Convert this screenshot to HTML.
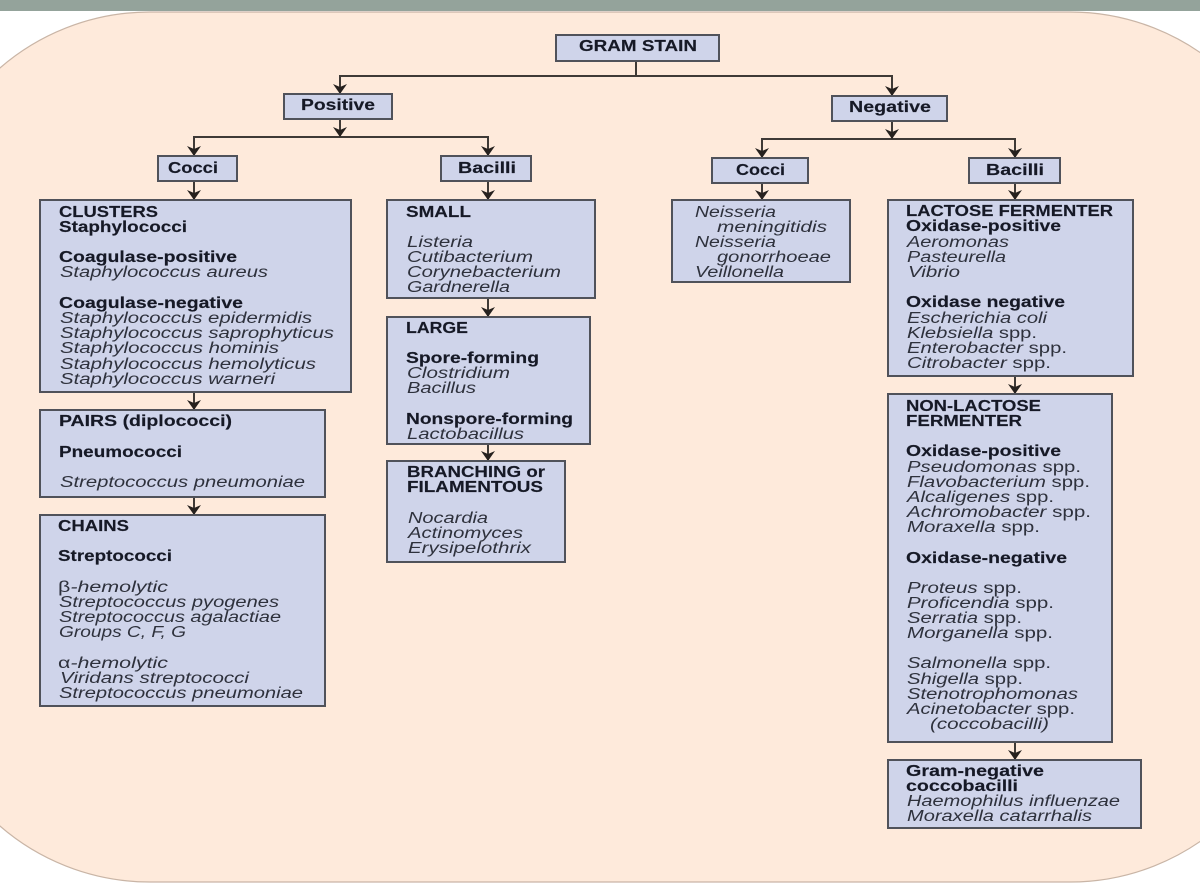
<!DOCTYPE html>
<html>
<head>
<meta charset="utf-8">
<style>
html,body{margin:0;padding:0;background:#fff;width:1200px;height:886px;overflow:hidden}
svg{display:block;filter:blur(.35px)}
text{font-family:"Liberation Sans",sans-serif;font-size:15.5px}
.b{font-weight:bold;fill:#161926;stroke:#161926;stroke-width:.15}
.i{font-style:italic;fill:#2e313c}
.n{font-style:normal}
.box{fill:#cfd4ea;stroke:#50525a;stroke-width:2}
.l{stroke:#3f3a36;stroke-width:2;fill:none}
.a{fill:#26211e}
</style>
</head>
<body>
<svg width="1200" height="886" viewBox="0 0 1200 886" xmlns="http://www.w3.org/2000/svg">
<rect x="0" y="0" width="1200" height="886" fill="#fff"/>
<rect x="-79" y="12" width="1378" height="870" rx="229" ry="229" fill="#feeadb" stroke="#c9b5a6" stroke-width="1.2"/>
<rect x="0" y="0" width="1200" height="11" fill="#94a39b"/>

<!-- connectors -->
<path class="l" d="M636 61V76M340 94V76H892V96M340 119V137M194 156V137H488V156M892 121V139M762 158V139H1015V158M194 181V200M488 181V200M762 183V200M1015 183V200M194 392V410M194 497V515M488 298V317M488 444V461M1015 376V394M1015 742V760"/>
<g class="a">
<polygon points="340,94 333,84 340,87 347,84"/>
<polygon points="892,96 885,86 892,89 899,86"/>
<polygon points="340,137 333,127 340,130 347,127"/>
<polygon points="194,156 187,146 194,149 201,146"/>
<polygon points="488,156 481,146 488,149 495,146"/>
<polygon points="892,139 885,129 892,132 899,129"/>
<polygon points="762,158 755,148 762,151 769,148"/>
<polygon points="1015,158 1008,148 1015,151 1022,148"/>
<polygon points="194,200 187,190 194,193 201,190"/>
<polygon points="488,200 481,190 488,193 495,190"/>
<polygon points="762,200 755,190 762,193 769,190"/>
<polygon points="1015,200 1008,190 1015,193 1022,190"/>
<polygon points="194,410 187,400 194,403 201,400"/>
<polygon points="194,515 187,505 194,508 201,505"/>
<polygon points="488,317 481,307 488,310 495,307"/>
<polygon points="488,461 481,451 488,454 495,451"/>
<polygon points="1015,394 1008,384 1015,387 1022,384"/>
<polygon points="1015,760 1008,750 1015,753 1022,750"/>
</g>

<!-- boxes -->
<rect class="box" x="556" y="35" width="163" height="26"/>
<rect class="box" x="284" y="94" width="108" height="25"/>
<rect class="box" x="832" y="96" width="115" height="25"/>
<rect class="box" x="158" y="156" width="79" height="25"/>
<rect class="box" x="441" y="156" width="90" height="25"/>
<rect class="box" x="712" y="158" width="96" height="25"/>
<rect class="box" x="969" y="158" width="91" height="25"/>
<rect class="box" x="40" y="200" width="311" height="192"/>
<rect class="box" x="40" y="410" width="285" height="87"/>
<rect class="box" x="40" y="515" width="285" height="191"/>
<rect class="box" x="387" y="200" width="208" height="98"/>
<rect class="box" x="387" y="317" width="203" height="127"/>
<rect class="box" x="387" y="461" width="178" height="101"/>
<rect class="box" x="672" y="200" width="178" height="82"/>
<rect class="box" x="888" y="200" width="245" height="176"/>
<rect class="box" x="888" y="394" width="224" height="348"/>
<rect class="box" x="888" y="760" width="253" height="68"/>

<!-- header labels -->
<text class="b" x="579" y="51" textLength="118" lengthAdjust="spacingAndGlyphs">GRAM STAIN</text>
<text class="b" x="301" y="110" textLength="74" lengthAdjust="spacingAndGlyphs">Positive</text>
<text class="b" x="849" y="112" textLength="82" lengthAdjust="spacingAndGlyphs">Negative</text>
<text class="b" x="168" y="173" textLength="50" lengthAdjust="spacingAndGlyphs">Cocci</text>
<text class="b" x="458" y="173" textLength="58" lengthAdjust="spacingAndGlyphs">Bacilli</text>
<text class="b" x="736" y="175" textLength="49" lengthAdjust="spacingAndGlyphs">Cocci</text>
<text class="b" x="986" y="175" textLength="58" lengthAdjust="spacingAndGlyphs">Bacilli</text>

<!-- clusters -->
<text class="b" x="59" y="217" textLength="99" lengthAdjust="spacingAndGlyphs">CLUSTERS</text>
<text class="b" x="59" y="232" textLength="128" lengthAdjust="spacingAndGlyphs">Staphylococci</text>
<text class="b" x="59" y="262" textLength="178" lengthAdjust="spacingAndGlyphs">Coagulase-positive</text>
<text class="i" x="60" y="277" textLength="208" lengthAdjust="spacingAndGlyphs">Staphylococcus aureus</text>
<text class="b" x="59" y="308" textLength="184" lengthAdjust="spacingAndGlyphs">Coagulase-negative</text>
<text class="i" x="60" y="323" textLength="252" lengthAdjust="spacingAndGlyphs">Staphylococcus epidermidis</text>
<text class="i" x="60" y="338" textLength="274" lengthAdjust="spacingAndGlyphs">Staphylococcus saprophyticus</text>
<text class="i" x="60" y="353" textLength="219" lengthAdjust="spacingAndGlyphs">Staphylococcus hominis</text>
<text class="i" x="60" y="369" textLength="256" lengthAdjust="spacingAndGlyphs">Staphylococcus hemolyticus</text>
<text class="i" x="60" y="384" textLength="215" lengthAdjust="spacingAndGlyphs">Staphylococcus warneri</text>

<!-- pairs -->
<text class="b" x="59" y="426" textLength="173" lengthAdjust="spacingAndGlyphs">PAIRS (diplococci)</text>
<text class="b" x="59" y="457" textLength="123" lengthAdjust="spacingAndGlyphs">Pneumococci</text>
<text class="i" x="60" y="487" textLength="245" lengthAdjust="spacingAndGlyphs">Streptococcus pneumoniae</text>

<!-- chains -->
<text class="b" x="58" y="531" textLength="71" lengthAdjust="spacingAndGlyphs">CHAINS</text>
<text class="b" x="58" y="561" textLength="114" lengthAdjust="spacingAndGlyphs">Streptococci</text>
<text class="i" x="58" y="592" textLength="110" lengthAdjust="spacingAndGlyphs"><tspan class="n">β</tspan>-hemolytic</text>
<text class="i" x="59" y="607" textLength="220" lengthAdjust="spacingAndGlyphs">Streptococcus pyogenes</text>
<text class="i" x="59" y="622" textLength="222" lengthAdjust="spacingAndGlyphs">Streptococcus agalactiae</text>
<text class="i" x="59" y="637" textLength="127" lengthAdjust="spacingAndGlyphs">Groups C, F, G</text>
<text class="i" x="58" y="668" textLength="110" lengthAdjust="spacingAndGlyphs"><tspan class="n">α</tspan>-hemolytic</text>
<text class="i" x="60" y="683" textLength="189" lengthAdjust="spacingAndGlyphs">Viridans streptococci</text>
<text class="i" x="59" y="698" textLength="244" lengthAdjust="spacingAndGlyphs">Streptococcus pneumoniae</text>

<!-- small -->
<text class="b" x="406" y="217" textLength="65" lengthAdjust="spacingAndGlyphs">SMALL</text>
<text class="i" x="407" y="247" textLength="66" lengthAdjust="spacingAndGlyphs">Listeria</text>
<text class="i" x="407" y="262" textLength="126" lengthAdjust="spacingAndGlyphs">Cutibacterium</text>
<text class="i" x="407" y="277" textLength="154" lengthAdjust="spacingAndGlyphs">Corynebacterium</text>
<text class="i" x="407" y="292" textLength="103" lengthAdjust="spacingAndGlyphs">Gardnerella</text>

<!-- large -->
<text class="b" x="406" y="333" textLength="62" lengthAdjust="spacingAndGlyphs">LARGE</text>
<text class="b" x="406" y="363" textLength="133" lengthAdjust="spacingAndGlyphs">Spore-forming</text>
<text class="i" x="407" y="378" textLength="103" lengthAdjust="spacingAndGlyphs">Clostridium</text>
<text class="i" x="407" y="393" textLength="69" lengthAdjust="spacingAndGlyphs">Bacillus</text>
<text class="b" x="406" y="424" textLength="167" lengthAdjust="spacingAndGlyphs">Nonspore-forming</text>
<text class="i" x="407" y="439" textLength="117" lengthAdjust="spacingAndGlyphs">Lactobacillus</text>

<!-- branching -->
<text class="b" x="407" y="477" textLength="138" lengthAdjust="spacingAndGlyphs">BRANCHING or</text>
<text class="b" x="407" y="492" textLength="136" lengthAdjust="spacingAndGlyphs">FILAMENTOUS</text>
<text class="i" x="408" y="523" textLength="80" lengthAdjust="spacingAndGlyphs">Nocardia</text>
<text class="i" x="408" y="538" textLength="115" lengthAdjust="spacingAndGlyphs">Actinomyces</text>
<text class="i" x="408" y="553" textLength="123" lengthAdjust="spacingAndGlyphs">Erysipelothrix</text>

<!-- neisseria -->
<text class="i" x="695" y="217" textLength="81" lengthAdjust="spacingAndGlyphs">Neisseria</text>
<text class="i" x="717" y="232" textLength="110" lengthAdjust="spacingAndGlyphs">meningitidis</text>
<text class="i" x="695" y="247" textLength="81" lengthAdjust="spacingAndGlyphs">Neisseria</text>
<text class="i" x="717" y="262" textLength="114" lengthAdjust="spacingAndGlyphs">gonorrhoeae</text>
<text class="i" x="695" y="277" textLength="89" lengthAdjust="spacingAndGlyphs">Veillonella</text>

<!-- lactose -->
<text class="b" x="906" y="216" textLength="207" lengthAdjust="spacingAndGlyphs">LACTOSE FERMENTER</text>
<text class="b" x="906" y="231" textLength="155" lengthAdjust="spacingAndGlyphs">Oxidase-positive</text>
<text class="i" x="907" y="247" textLength="102" lengthAdjust="spacingAndGlyphs">Aeromonas</text>
<text class="i" x="907" y="262" textLength="99" lengthAdjust="spacingAndGlyphs">Pasteurella</text>
<text class="i" x="908" y="277" textLength="52" lengthAdjust="spacingAndGlyphs">Vibrio</text>
<text class="b" x="906" y="307" textLength="159" lengthAdjust="spacingAndGlyphs">Oxidase negative</text>
<text class="i" x="907" y="323" textLength="140" lengthAdjust="spacingAndGlyphs">Escherichia coli</text>
<text class="i" x="907" y="338" textLength="130" lengthAdjust="spacingAndGlyphs">Klebsiella <tspan class="n">spp.</tspan></text>
<text class="i" x="907" y="353" textLength="160" lengthAdjust="spacingAndGlyphs">Enterobacter <tspan class="n">spp.</tspan></text>
<text class="i" x="907" y="368" textLength="144" lengthAdjust="spacingAndGlyphs">Citrobacter <tspan class="n">spp.</tspan></text>

<!-- non-lactose -->
<text class="b" x="906" y="411" textLength="135" lengthAdjust="spacingAndGlyphs">NON-LACTOSE</text>
<text class="b" x="906" y="426" textLength="116" lengthAdjust="spacingAndGlyphs">FERMENTER</text>
<text class="b" x="906" y="456" textLength="155" lengthAdjust="spacingAndGlyphs">Oxidase-positive</text>
<text class="i" x="907" y="472" textLength="174" lengthAdjust="spacingAndGlyphs">Pseudomonas <tspan class="n">spp.</tspan></text>
<text class="i" x="907" y="487" textLength="183" lengthAdjust="spacingAndGlyphs">Flavobacterium <tspan class="n">spp.</tspan></text>
<text class="i" x="907" y="502" textLength="147" lengthAdjust="spacingAndGlyphs">Alcaligenes <tspan class="n">spp.</tspan></text>
<text class="i" x="907" y="517" textLength="184" lengthAdjust="spacingAndGlyphs">Achromobacter <tspan class="n">spp.</tspan></text>
<text class="i" x="907" y="532" textLength="133" lengthAdjust="spacingAndGlyphs">Moraxella <tspan class="n">spp.</tspan></text>
<text class="b" x="906" y="563" textLength="161" lengthAdjust="spacingAndGlyphs">Oxidase-negative</text>
<text class="i" x="907" y="593" textLength="115" lengthAdjust="spacingAndGlyphs">Proteus <tspan class="n">spp.</tspan></text>
<text class="i" x="907" y="608" textLength="147" lengthAdjust="spacingAndGlyphs">Proficendia <tspan class="n">spp.</tspan></text>
<text class="i" x="907" y="623" textLength="115" lengthAdjust="spacingAndGlyphs">Serratia <tspan class="n">spp.</tspan></text>
<text class="i" x="907" y="638" textLength="146" lengthAdjust="spacingAndGlyphs">Morganella <tspan class="n">spp.</tspan></text>
<text class="i" x="907" y="668" textLength="144" lengthAdjust="spacingAndGlyphs">Salmonella <tspan class="n">spp.</tspan></text>
<text class="i" x="907" y="684" textLength="116" lengthAdjust="spacingAndGlyphs">Shigella <tspan class="n">spp.</tspan></text>
<text class="i" x="907" y="699" textLength="171" lengthAdjust="spacingAndGlyphs">Stenotrophomonas</text>
<text class="i" x="907" y="714" textLength="168" lengthAdjust="spacingAndGlyphs">Acinetobacter <tspan class="n">spp.</tspan></text>
<text class="i" x="930" y="729" textLength="119" lengthAdjust="spacingAndGlyphs">(coccobacilli)</text>

<!-- gram negative coccobacilli -->
<text class="b" x="906" y="776" textLength="138" lengthAdjust="spacingAndGlyphs">Gram-negative</text>
<text class="b" x="906" y="791" textLength="112" lengthAdjust="spacingAndGlyphs">coccobacilli</text>
<text class="i" x="907" y="806" textLength="213" lengthAdjust="spacingAndGlyphs">Haemophilus influenzae</text>
<text class="i" x="907" y="821" textLength="185" lengthAdjust="spacingAndGlyphs">Moraxella catarrhalis</text>
</svg>
</body>
</html>
